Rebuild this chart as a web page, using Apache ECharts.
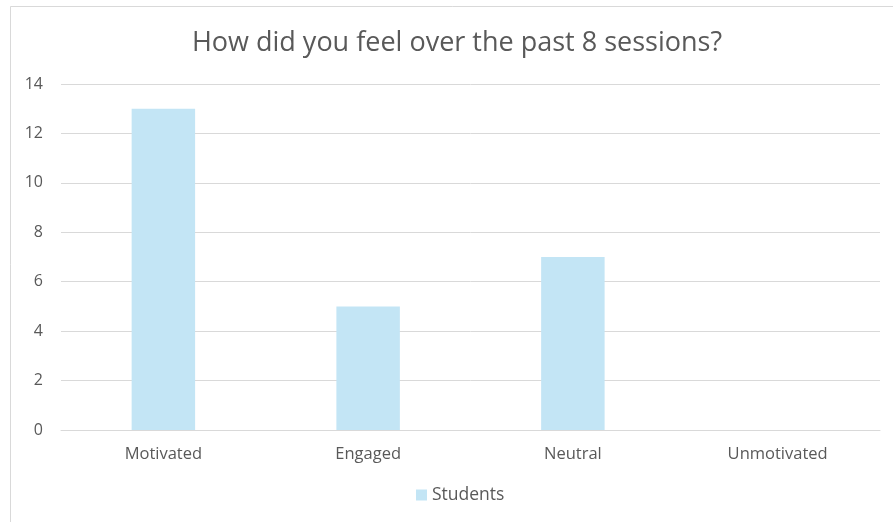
<!DOCTYPE html>
<html><head><meta charset="utf-8">
<script src="https://cdn.jsdelivr.net/npm/echarts@6/dist/echarts.min.js"></script>
<style>html,body{margin:0;padding:0;background:#fff}#c{width:893px;height:522px}</style>
</head><body><div id="c"></div>
<script>
const categories = ['Motivated', 'Engaged', 'Neutral', 'Unmotivated'];
const students = [13, 5, 7, 0];
const yTicks = [0, 2, 4, 6, 8, 10, 12, 14];

const chart = echarts.init(document.getElementById('c'));
const font = '"Open Sans", sans-serif';
chart.setOption({
  animation: false,
  backgroundColor: '#fff',
  title: {
    text: 'How did you feel over the past 8 sessions?',
    left: 452, top: 25, textAlign: 'center',
    textStyle: { fontFamily: font, fontSize: 27, fontWeight: 'normal', color: '#595959' }
  },
  graphic: [{
    type: 'rect', shape: { x: 10.5, y: 6.5, width: 1000, height: 1000 },
    style: { fill: 'none', stroke: '#d9d9d9', lineWidth: 1 }, silent: true
  }],
  legend: {
    bottom: 13, left: 411, itemWidth: 11, itemHeight: 11, itemGap: 5,
    icon: 'rect',
    textStyle: { fontFamily: font, fontSize: 17.5, color: '#595959' },
    data: ['Students']
  },
  grid: { left: 61, right: 13, top: 84, bottom: 92, containLabel: false },
  xAxis: {
    type: 'category', data: categories,
    axisLine: { lineStyle: { color: '#d9d9d9', width: 1 } },
    axisTick: { show: false },
    axisLabel: { fontFamily: font, fontSize: 16.5, color: '#595959', margin: 16 }
  },
  yAxis: {
    type: 'value', min: yTicks[0], max: yTicks[yTicks.length - 1], interval: 2,
    axisLine: { show: false }, axisTick: { show: false },
    splitLine: { lineStyle: { color: '#d9d9d9', width: 1 } },
    axisLabel: { fontFamily: font, fontSize: 16, color: '#595959', margin: 18 }
  },
  series: [{
    name: 'Students', type: 'bar', data: students, barWidth: '31%',
    itemStyle: { color: '#C3E5F5' }
  }]
});
</script></body></html>
